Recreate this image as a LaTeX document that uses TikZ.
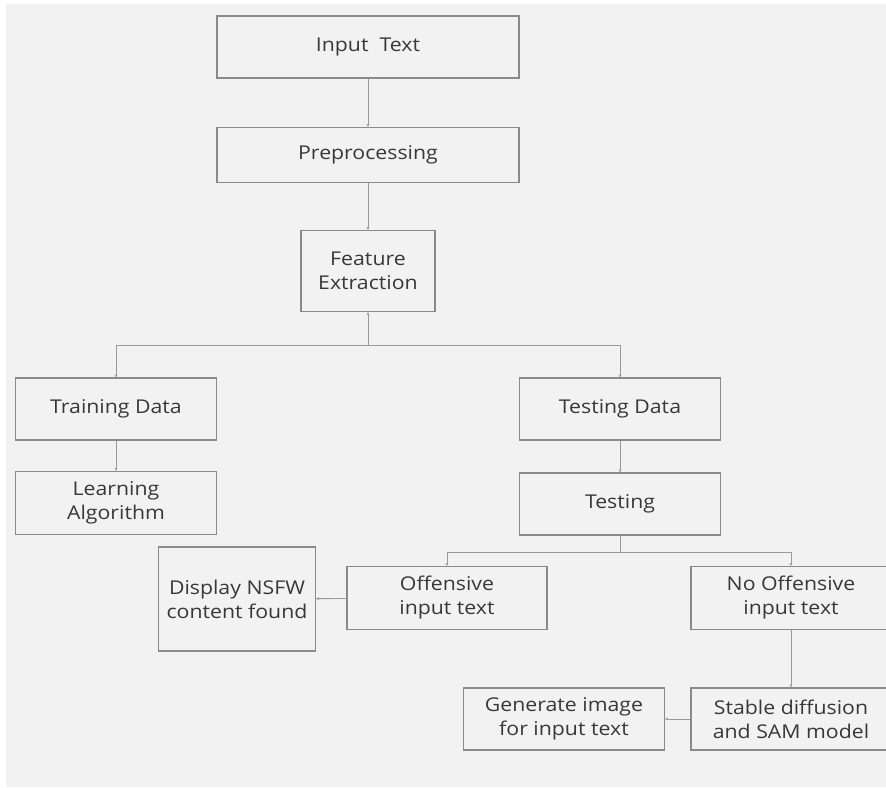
\documentclass[tikz,border=0pt]{standalone}
\usepackage{fontspec}
\setmainfont{Open Sans}[FakeStretch=1.12]
\usetikzlibrary{arrows.meta}
\definecolor{bggray}{HTML}{F2F2F2}
\definecolor{boxgray}{HTML}{8A8A8A}
\definecolor{linegray}{HTML}{9A9A9A}
\definecolor{txtgray}{HTML}{383838}
\tikzset{
    box/.style={draw=boxgray, line width=1.3pt, align=center, inner sep=0pt,
        text=txtgray, font=\fontsize{19}{24}\selectfont},
    conn/.style={draw=linegray, line width=0.9pt, -{Stealth[length=3pt,width=3pt]}},
    plainconn/.style={draw=linegray, line width=0.9pt}
}
\begin{document}
\begin{tikzpicture}[x=1pt, y=-1pt]
    \useasboundingbox (0, 0) rectangle (886, 787);
    \clip (0, 0) rectangle (886, 787);
    \fill[white] (0, 0) rectangle (886, 787);
    \fill[bggray] (6, 4) rectangle (886, 787);

    \node[box, minimum width=302pt, minimum height=62pt] (input) at (368, 47) {Input\ \ Text};
    \node[box, minimum width=302pt, minimum height=55pt] (prep) at (368, 155) {Preprocessing};
    \node[box, minimum width=134pt, minimum height=81pt] (feat) at (368, 271) {Feature\\Extraction};
    \node[box, minimum width=201pt, minimum height=62pt] (train) at (116, 409) {Training Data};
    \node[box, minimum width=201pt, minimum height=63pt] (learn) at (116, 503) {Learning\\Algorithm};
    \node[box, minimum width=201pt, minimum height=62pt] (testdata) at (620, 409) {Testing Data};
    \node[box, minimum width=201pt, minimum height=62pt] (testing) at (620, 504) {Testing};
    \node[box, minimum width=200pt, minimum height=63pt] (offens) at (447, 598) {Offensive\\input text};
    \node[box, minimum width=200pt, minimum height=63pt] (nooff) at (791, 598) {No Offensive\\input text};
    \node[box, minimum width=157pt, minimum height=104pt] (display) at (237, 599) {Display NSFW\\content found};
    \node[box, minimum width=200pt, minimum height=62pt] (stable) at (791, 719) {Stable diffusion\\and SAM model};
    \node[box, minimum width=201pt, minimum height=62pt] (generate) at (564, 719) {Generate image\\for input text};

    \coordinate (split) at (368, 345);
    \coordinate (fork) at (620, 552);

    \draw[conn] (input) -- (prep);
    \draw[conn] (prep) -- (feat);
    \draw[conn] (split) -- (feat);
    \draw[conn] (split) -| (train);
    \draw[conn] (split) -| (testdata);
    \draw[conn] (train) -- (learn);
    \draw[conn] (testdata) -- (testing);
    \draw[plainconn] (testing) -- (fork);
    \draw[conn] (fork) -| (offens);
    \draw[conn] (fork) -| (nooff);
    \draw[conn] (offens) -- (display);
    \draw[conn] (nooff) -- (stable);
    \draw[conn] (stable) -- (generate);
\end{tikzpicture}
\end{document}
